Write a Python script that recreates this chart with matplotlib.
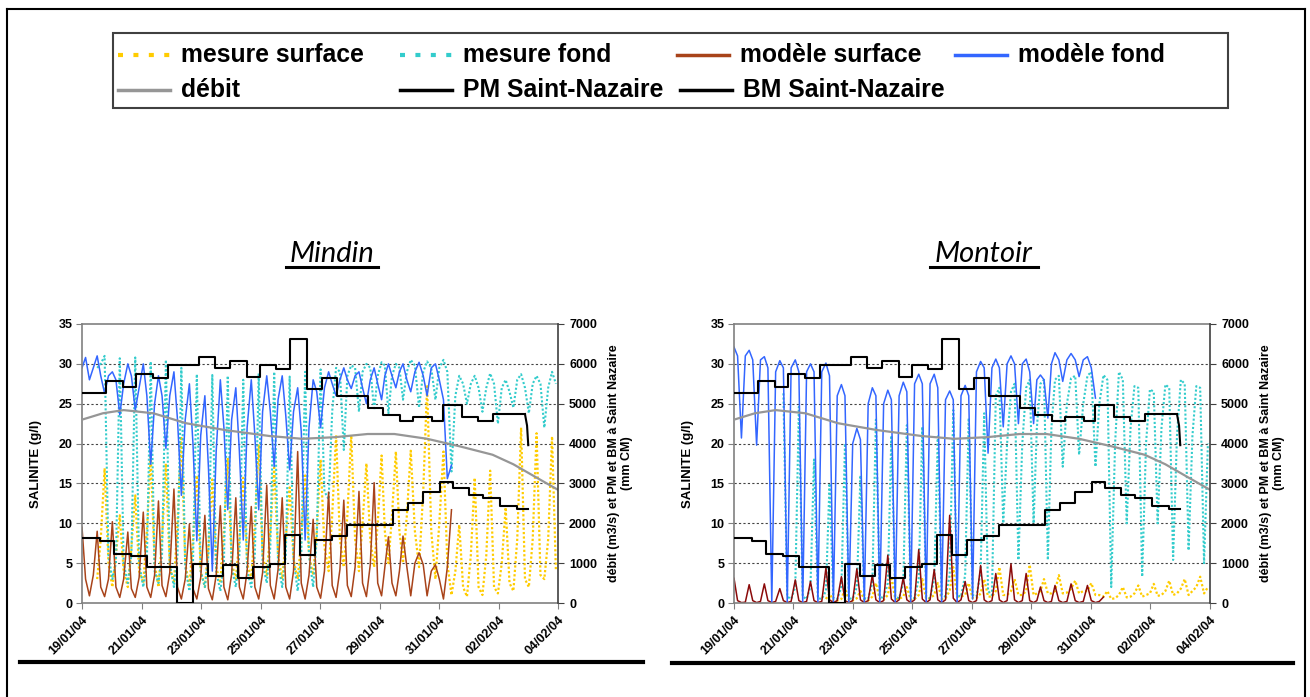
import numpy as np
import matplotlib.pyplot as plt
from matplotlib.lines import Line2D
from matplotlib.patches import Rectangle

W, H = 1310, 697

# tide grid, days after 19/01/04 00:00 : [high water, ebb, low water, flood]
tide_t = [
    [0.00, 0.12, 0.25, 0.38], [0.51, 0.63, 0.76, 0.89], [1.02, 1.14, 1.27, 1.40],
    [1.54, 1.66, 1.79, 1.92], [2.06, 2.18, 2.31, 2.44], [2.57, 2.69, 2.82, 2.95],
    [3.09, 3.21, 3.34, 3.47], [3.61, 3.73, 3.86, 3.99], [4.13, 4.25, 4.38, 4.51],
    [4.65, 4.77, 4.90, 5.03], [5.17, 5.29, 5.42, 5.55], [5.69, 5.81, 5.94, 6.07],
    [6.21, 6.33, 6.46, 6.59], [6.73, 6.85, 6.98, 7.11], [7.25, 7.37, 7.50, 7.63],
    [7.77, 7.89, 8.02, 8.15], [8.29, 8.41, 8.54, 8.67], [8.80, 8.92, 9.05, 9.18],
    [9.31, 9.43, 9.56, 9.69], [9.82, 9.94, 10.07, 10.18], [10.30, 10.42, 10.55, 10.67],
    [10.79, 10.92, 11.05, 11.19], [11.33, 11.47, 11.60, 11.74], [11.88, 12.01, 12.15, 12.28],
    [12.42, 12.55, 12.68, 12.81], [12.94, 13.07, 13.20, 13.33], [13.46, 13.59, 13.72, 13.85],
    [13.98, 14.11, 14.24, 14.37], [14.50, 14.63, 14.76, 14.89], [15.02, 15.15, 15.28, 15.41],
    [15.54, 15.67, 15.80, 15.93],
]

# ---- Mindin salinity (g/l), one row per tide cycle ----
mindin_mes_surf = [
    [None, None, None, None], [3.0, 8.0, 16.9, 5.0], [2.0, 6.0, 11.0, 4.0], [2.0, 7.0, 13.5, 4.0],
    [2.5, 9.0, 18.6, 5.0], [2.0, 8.0, 17.5, 4.5], [2.5, 10.0, 20.9, 5.0], [2.0, 8.0, 16.0, 4.0],
    [2.0, 7.0, 15.5, 4.5], [2.5, 9.0, 18.2, 5.0], [3.0, 8.0, 15.7, 5.0], [3.0, 10.0, 19.9, 6.0],
    [3.5, 9.0, 17.0, 6.0], [3.0, 8.0, 14.5, 5.5], [3.0, 8.0, 16.0, 6.0], [3.5, 9.0, 18.0, 7.0],
    [4.0, 11.0, 21.1, 8.0], [4.5, 11.0, 21.1, 8.0], [4.0, 10.0, 17.5, 8.0], [4.5, 10.0, 18.5, 9.0],
    [5.0, 11.0, 19.0, 9.0], [5.0, 11.0, 19.1, 9.0], [4.5, 14.0, 27.2, 9.0], [3.0, 10.0, 19.0, 5.0],
    [1.0, 4.0, 9.8, 2.0], [0.8, 6.0, 15.7, 2.0], [1.0, 6.0, 16.6, 2.0], [1.2, 5.0, 12.0, 2.5],
    [1.5, 8.0, 22.0, 3.0], [2.0, 8.0, 21.3, 3.5], [3.0, 8.0, 20.9, 4.0],
]
mindin_mes_fond = [
    [None, None, None, None], [29.5, 30.0, 31.0, 6.0], [3.0, 5.0, 30.7, 5.0], [2.5, 6.0, 30.8, 5.0],
    [2.0, 5.0, 30.3, 4.0], [2.5, 6.0, 30.5, 5.0], [2.0, 6.0, 29.5, 4.5], [1.5, 5.0, 28.7, 4.0],
    [2.0, 6.0, 28.6, 4.0], [1.5, 5.0, 28.5, 4.5], [2.0, 6.0, 28.0, 4.0], [2.0, 6.0, 28.8, 5.0],
    [2.5, 7.0, 29.0, 5.0], [2.0, 6.0, 28.4, 5.5], [1.5, 6.0, 29.0, 6.0], [2.0, 8.0, 29.3, 14.0],
    [13.0, 24.0, 29.5, 29.0], [19.2, 28.5, 29.8, 29.5], [24.0, 29.0, 30.0, 29.5], [24.2, 28.5, 30.2, 29.8],
    [23.8, 28.5, 30.0, 29.5], [25.5, 29.0, 30.5, 29.8], [24.5, 29.0, 30.3, 29.5], [25.5, 29.5, 30.5, 29.0],
    [16.5, 26.0, 28.5, 27.5], [25.0, 27.5, 28.5, 27.0], [24.0, 27.0, 28.8, 27.5], [22.5, 27.0, 28.0, 26.5],
    [24.5, 28.0, 28.7, 27.0], [23.8, 27.5, 28.5, 27.5], [22.0, 27.0, 29.0, 27.5],
]
mindin_mod_surf = [
    [9.5, 3.0, 0.9, 3.5], [9.0, 2.0, 0.8, 3.0], [10.2, 2.0, 0.7, 3.0], [8.9, 1.8, 0.7, 3.2],
    [11.4, 2.0, 0.7, 3.5], [12.8, 2.2, 0.8, 3.8], [14.3, 2.0, 0.5, 3.0], [9.9, 1.8, 0.5, 3.2],
    [11.0, 1.8, 0.4, 3.5], [12.2, 2.0, 0.4, 3.6], [13.2, 2.0, 0.5, 4.0], [12.1, 2.0, 0.5, 3.8],
    [14.8, 2.2, 0.5, 4.2], [13.2, 2.0, 0.5, 4.0], [19.0, 2.5, 0.5, 3.5], [10.5, 2.0, 0.6, 4.0],
    [13.9, 2.2, 0.7, 4.2], [12.9, 2.2, 0.8, 4.5], [14.0, 2.5, 0.8, 4.8], [15.1, 2.5, 0.9, 4.5],
    [8.3, 2.5, 0.9, 4.0], [8.4, 4.5, 0.9, 5.0], [6.3, 4.8, 0.9, 4.0], [4.8, 3.0, 0.5, 4.5],
    [11.7],
]
mindin_mod_fond = [
    [29.5, 30.8, 28.0, 29.5], [31.0, 28.5, 26.3, 28.5], [29.0, 28.0, 23.6, 27.5], [30.0, 28.5, 24.2, 27.0],
    [30.0, 26.0, 17.4, 25.0], [28.5, 26.0, 19.4, 26.0], [29.0, 23.0, 13.5, 23.0], [27.5, 20.0, 7.8, 21.0],
    [26.0, 17.0, 4.0, 19.0], [28.0, 22.0, 11.7, 23.0], [27.0, 19.0, 7.9, 22.0], [28.0, 21.0, 11.7, 24.0],
    [28.5, 24.0, 17.1, 25.5], [28.5, 23.5, 16.7, 24.0], [27.0, 21.5, 7.9, 22.0], [28.0, 26.5, 22.0, 27.0],
    [29.0, 27.5, 26.0, 28.0], [29.5, 28.0, 26.9, 28.5], [29.0, 27.0, 25.0, 28.0], [29.5, 27.5, 25.5, 28.5],
    [30.0, 28.5, 27.0, 29.0], [30.0, 28.0, 26.5, 29.0], [30.2, 28.5, 26.0, 29.5], [30.0, 28.0, 25.5, 15.6],
    [17.3],
]

# ---- Montoir salinity (g/l) ----
montoir_mes_surf = [
    [None] * 4, [None] * 4, [None] * 4, [None] * 4, [None] * 4, [None] * 4,
    [0.5, 1.2, 0.3, 0.3], [0.5, 1.8, 0.4, 0.3], [0.6, 1.5, 0.4, 0.3], [0.8, 2.5, 0.5, 0.4],
    [1.0, 3.3, 0.5, 0.5], [0.8, 2.0, 0.4, 0.5], [1.0, 3.0, 0.5, 0.6], [1.0, 2.5, 0.5, 0.6],
    [1.5, 4.5, 0.8, 0.8], [1.0, 2.5, 0.6, 0.6], [1.2, 3.0, 0.8, 0.8], [1.5, 4.5, 1.0, 1.0],
    [1.5, 3.0, 1.0, 1.0], [1.5, 4.8, 1.0, 1.2], [1.5, 3.0, 1.2, 1.2], [1.5, 3.5, 1.2, 1.3],
    [1.8, 2.8, 1.2, 1.5], [1.5, 2.5, 1.0, 1.0], [0.8, 1.5, 0.5, 0.6], [1.0, 2.0, 0.7, 0.8],
    [1.2, 2.2, 0.8, 1.0], [1.2, 2.4, 0.9, 1.0], [1.5, 2.8, 1.0, 1.2], [1.8, 3.0, 1.0, 1.5],
    [2.0, 3.3, 1.2, 2.0],
]
montoir_mes_fond = [
    [None] * 4, [None] * 4, [None] * 4, [None, 26.3, 0.8, 0.5],
    [2.0, 24.6, 0.8, 0.5], [2.0, 18.0, 0.6, 0.5], [1.5, 15.0, 0.6, 0.5], [2.0, 20.0, 0.6, 0.5],
    [2.0, 16.0, 0.6, 0.5], [2.5, 23.0, 0.8, 0.6], [2.5, 21.0, 0.8, 0.6], [2.5, 22.3, 0.8, 0.6],
    [3.0, 22.1, 0.8, 0.6], [3.0, 20.9, 1.0, 0.8], [3.5, 24.2, 1.0, 0.8], [3.5, 23.2, 1.0, 0.8],
    [4.0, 23.8, 1.5, 1.0], [26.0, 27.0, 10.0, 20.0], [26.5, 27.5, 5.4, 20.0], [27.0, 28.0, 10.0, 22.0],
    [27.5, 28.0, 5.4, 22.0], [28.0, 28.5, 17.1, 25.0], [28.2, 28.5, 18.6, 25.0], [28.5, 29.0, 17.1, 25.0],
    [28.6, 28.0, 2.0, 20.0], [29.0, 28.0, 10.0, 22.0], [27.2, 27.0, 3.3, 20.0], [26.8, 26.5, 10.0, 22.0],
    [27.4, 27.0, 5.4, 21.0], [28.0, 27.5, 6.6, 21.0], [27.2, 27.0, 5.0, 20.0],
]
montoir_mod_surf = [
    [3.1, 0.3, 0.05, 0.1], [2.3, 0.3, 0.05, 0.2], [2.4, 0.3, 0.05, 0.2], [1.8, 0.3, 0.05, 0.2],
    [2.9, 0.3, 0.05, 0.2], [2.7, 0.3, 0.05, 0.2], [4.4, 0.4, 0.05, 0.3], [3.3, 0.3, 0.05, 0.3],
    [4.3, 0.4, 0.05, 0.3], [3.5, 0.4, 0.05, 0.3], [6.0, 0.5, 0.05, 0.4], [3.2, 0.4, 0.05, 0.4],
    [6.7, 0.5, 0.05, 0.4], [4.2, 0.4, 0.05, 0.4], [11.0, 0.6, 0.05, 0.4], [2.7, 0.3, 0.05, 0.3],
    [4.7, 0.4, 0.05, 0.3], [3.7, 0.4, 0.05, 0.3], [4.9, 0.4, 0.05, 0.3], [3.7, 0.3, 0.05, 0.3],
    [2.0, 0.3, 0.05, 0.2], [2.2, 0.3, 0.05, 0.2], [2.4, 0.3, 0.05, 0.2], [2.2, 0.3, 0.05, 0.2],
    [0.75],
]
montoir_mod_fond = [
    [32.1, 31.0, 20.7, 31.0], [31.7, 30.5, 19.8, 30.5], [30.9, 29.5, 0.0, 29.0], [30.4, 29.5, 0.0, 29.5],
    [30.5, 29.0, 0.0, 29.0], [30.0, 29.0, 0.0, 29.0], [30.1, 28.5, 0.0, 26.0], [27.4, 26.0, 0.0, 20.0],
    [21.9, 20.5, 0.0, 25.0], [27.0, 26.0, 0.0, 25.0], [26.7, 25.5, 0.0, 26.0], [27.7, 26.5, 0.0, 27.5],
    [28.7, 27.5, 0.0, 27.5], [28.7, 27.0, 0.0, 25.5], [26.6, 25.5, 0.0, 26.0], [27.3, 26.0, 0.5, 29.0],
    [30.3, 29.5, 18.8, 29.5], [30.6, 29.5, 22.1, 30.0], [31.0, 30.0, 22.5, 30.0], [30.6, 29.0, 22.5, 28.0],
    [28.6, 28.0, 23.2, 30.0], [31.4, 30.5, 27.8, 30.5], [31.3, 30.5, 28.4, 30.5], [30.9, 29.5, 25.7],
]

# ---- right axis: débit (m3/s), PM / BM Saint-Nazaire (mm CM) ----
debit_days = [0, 0.7, 1.4, 2.4, 3.5, 4.8, 6.3, 7.4, 8.5, 9.6, 10.5, 11.6, 12.7, 13.8, 14.5, 15.2, 16.0]
debit = [4600, 4760, 4840, 4760, 4510, 4340, 4190, 4120, 4160, 4240, 4240, 4120, 3930, 3720, 3480, 3180, 2840]

pm_days = [0, 0.80, 1.38, 1.83, 2.39, 2.90, 3.40, 3.93, 4.47, 4.98, 5.54, 5.99, 6.53, 7.00,
           7.56, 8.07, 8.57, 9.63, 10.13, 10.69, 11.14, 11.75, 12.14, 12.76, 13.32, 13.83, 14.89]
pm = [5260, 5560, 5420, 5740, 5640, 5960, 5980, 6160, 5900, 6080, 5660, 5980, 5860, 6620,
      5380, 5640, 5200, 4880, 4720, 4560, 4660, 4560, 4980, 4660, 4560, 4740, 4740]
pm_tail_days = [14.89, 14.96, 15.0]
pm_tail = [4740, 4450, 3960]

bm_days = [0, 0.60, 1.08, 1.66, 2.17, 3.18, 3.72, 4.25, 4.75, 5.26, 5.76, 6.33, 6.83, 7.34,
           7.84, 8.40, 8.90, 10.46, 10.97, 11.47, 12.03, 12.48, 13.02, 13.49, 14.05, 14.61, 15.0]
bm = [1640, 1550, 1240, 1180, 905, 0, 970, 680, 950, 630, 905, 990, 1700, 1200,
      1590, 1690, 1950, 2340, 2520, 2790, 3040, 2880, 2700, 2640, 2440, 2360, 2360]

tick_days = [0, 2, 4, 6, 8, 10, 12, 14, 16]
tick_labels = ["19/01/04", "21/01/04", "23/01/04", "25/01/04", "27/01/04",
               "29/01/04", "31/01/04", "02/02/04", "04/02/04"]

YELLOW = "#FFCC00"
CYAN = "#33CCCC"
BLUE = "#3366FF"
GREY = "#969696"

t_all = np.array(tide_t, dtype=float).ravel()


def curve(rows):
    v = np.array([x for r in rows for x in r], dtype=float)
    return t_all[:len(v)], v


def panel(ax, mes_surf, mes_fond, mod_surf, mod_fond, brown):
    dots = (0, (1, 1))
    ax.plot(*curve(mes_surf), color=YELLOW, lw=1.6, ls=dots)
    ax.plot(*curve(mes_fond), color=CYAN, lw=1.5, ls=dots)
    ax.plot(*curve(mod_surf), color=brown, lw=1.1)
    ax.plot(*curve(mod_fond), color=BLUE, lw=1.1)
    ax.set_xlim(0, 16)
    ax.set_ylim(0, 35)
    ax.set_yticks(range(0, 36, 5))
    ax.set_xticks(tick_days)
    ax.set_xticklabels(tick_labels, rotation=45, ha="right", va="top",
                       rotation_mode="anchor", fontsize=9, fontweight="bold")
    for lab in ax.get_yticklabels():
        lab.set_fontweight("bold")
    ax.tick_params(axis="y", labelsize=9, length=4, color="#808080", pad=3)
    ax.tick_params(axis="x", length=4, color="#808080", pad=4)
    for y in range(5, 31, 5):
        ax.axhline(y, color="#444444", lw=0.8, ls=(0, (2, 2)), zorder=0)
    for s in ["left", "bottom", "top"]:
        ax.spines[s].set_color("#808080")
        ax.spines[s].set_linewidth(1.2)
    ax.spines["right"].set_visible(False)
    ax.set_ylabel("SALINITE (g/l)", fontsize=9.5, fontweight="bold", labelpad=12)

    ax2 = ax.twinx()
    ax2.plot(debit_days, debit, color=GREY, lw=1.6)
    ax2.plot(pm_days, pm, color="black", lw=1.5, drawstyle="steps-post")
    ax2.plot(pm_tail_days, pm_tail, color="black", lw=1.5)
    ax2.plot(bm_days, bm, color="black", lw=1.5, drawstyle="steps-post")
    ax2.set_ylim(0, 7000)
    ax2.set_yticks(range(0, 7001, 1000))
    for lab in ax2.get_yticklabels():
        lab.set_fontweight("bold")
    ax2.tick_params(axis="y", labelsize=9, length=4, color="#404040", pad=4)
    for s in ["left", "bottom", "top"]:
        ax2.spines[s].set_visible(False)
    ax2.spines["right"].set_color("#404040")
    ax2.spines["right"].set_linewidth(1.2)
    ax2.set_ylabel("débit (m3/s) et PM et BM à Saint Nazaire\n(mm CM)",
                   fontsize=9, fontweight="bold", labelpad=8, linespacing=1.1)


plt.rcParams["font.family"] = ["Liberation Sans", "DejaVu Sans"]
fig = plt.figure(figsize=(W / 100, H / 100), dpi=100)


def fx(x):
    return x / W


def fy(y):
    return 1 - y / H


ax_l = fig.add_axes([fx(82), fy(603), 476 / W, 279 / H])
ax_r = fig.add_axes([fx(734), fy(603), 476 / W, 279 / H])
panel(ax_l, mindin_mes_surf, mindin_mes_fond, mindin_mod_surf, mindin_mod_fond, "#A8431A")
panel(ax_r, montoir_mes_surf, montoir_mes_fond, montoir_mod_surf, montoir_mod_fond, "#8B0A0A")

# panel titles (underlined)
for name, cx, x0, x1 in [("Mindin", 332, 286, 378), ("Montoir", 984, 930, 1038)]:
    fig.text(fx(cx), fy(262), name, ha="center", va="baseline", fontsize=21,
             style="italic", family=["Lato", "DejaVu Sans"])
    fig.add_artist(Line2D([fx(x0), fx(x1)], [fy(267), fy(267)], color="black", lw=2.2))

# legend box
fig.add_artist(Rectangle((fx(113), fy(108)), (1228 - 113) / W, 75 / H, fill=False,
                         edgecolor="#404040", lw=1.5))
legend_items = [
    ("mesure surface", YELLOW, (0, (1.2, 2.5)), 3, 118, 55),
    ("mesure fond", CYAN, (0, (1.2, 2.5)), 3, 400, 55),
    ("modèle surface", "#A8431A", "-", 2.5, 677, 55),
    ("modèle fond", BLUE, "-", 2.5, 955, 55),
    ("débit", GREY, "-", 2.5, 118, 90),
    ("PM Saint-Nazaire", "black", "-", 2.5, 400, 90),
    ("BM Saint-Nazaire", "black", "-", 2.5, 680, 90),
]
for label, col, ls, lw, x0, y in legend_items:
    fig.add_artist(Line2D([fx(x0), fx(x0 + 52)], [fy(y), fy(y)], color=col, ls=ls, lw=lw))
    fig.text(fx(x0 + 63), fy(y), label, ha="left", va="center", fontsize=17.8,
             fontweight="bold")

# frame and bottom rules
fig.add_artist(Line2D([fx(7), fx(1305)], [fy(9), fy(9)], color="black", lw=1.5))
fig.add_artist(Line2D([fx(7), fx(7)], [fy(9), 0], color="black", lw=1.5))
fig.add_artist(Line2D([fx(1305), fx(1305)], [fy(9), 0], color="black", lw=1.5))
fig.add_artist(Line2D([fx(20), fx(643)], [fy(662), fy(662)], color="black", lw=3))
fig.add_artist(Line2D([fx(672), fx(1293)], [fy(663), fy(663)], color="black", lw=3))

fig.savefig("out.png", dpi=100)
